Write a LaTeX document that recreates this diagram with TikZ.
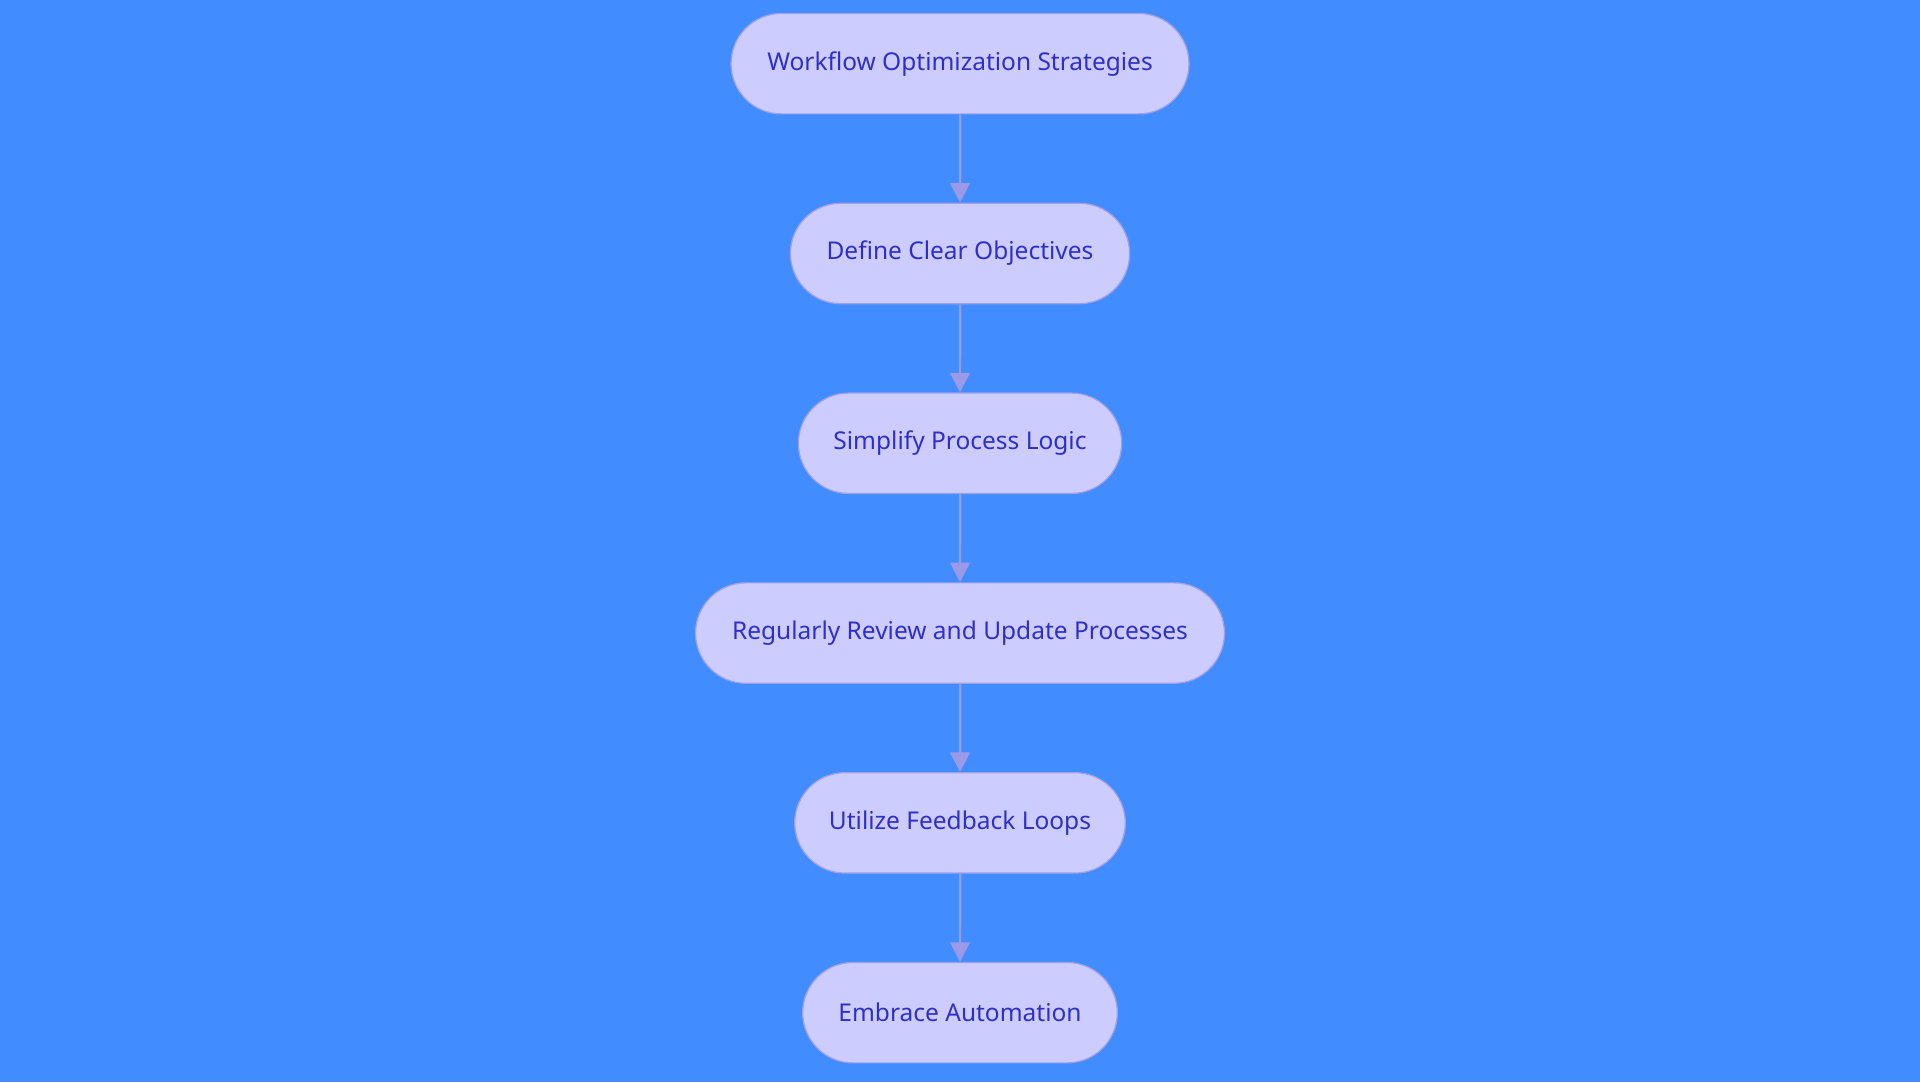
\documentclass[tikz,border=0pt]{standalone}
\usepackage{fontspec}
\setmainfont{Noto Sans}
\usetikzlibrary{shapes.misc,arrows.meta}
\definecolor{bg}{HTML}{418CFF}
\definecolor{nfill}{HTML}{CCCCFF}
\definecolor{nline}{HTML}{A0A0E6}
\definecolor{ntext}{HTML}{2F2FC8}
\definecolor{arr}{HTML}{9A9AE8}
\begin{document}
\begin{tikzpicture}[x=1pt,y=-1pt,
  box/.style={rounded rectangle,fill=nfill,draw=nline,line width=1pt,minimum height=82pt,inner sep=0pt,text=ntext,font=\fontsize{20}{24}\selectfont},
  conn/.style={draw=arr,line width=2pt,-{Triangle[length=16pt,width=16pt]}}]
\fill[bg] (0,0) rectangle (1568,884);
\useasboundingbox (0,0) rectangle (1568,884);
\node[box,minimum width=374pt] (a) at (784,52) {Workflow Optimization Strategies};
\node[box,minimum width=277pt] (b) at (784,207) {Define Clear Objectives};
\node[box,minimum width=264pt] (c) at (784,362) {Simplify Process Logic};
\node[box,minimum width=432pt] (d) at (784,517) {Regularly Review and Update Processes};
\node[box,minimum width=270pt] (e) at (784,672) {Utilize Feedback Loops};
\node[box,minimum width=257pt] (f) at (784,827) {Embrace Automation};
\draw[conn] (a) -- (b);
\draw[conn] (b) -- (c);
\draw[conn] (c) -- (d);
\draw[conn] (d) -- (e);
\draw[conn] (e) -- (f);
\end{tikzpicture}
\end{document}
